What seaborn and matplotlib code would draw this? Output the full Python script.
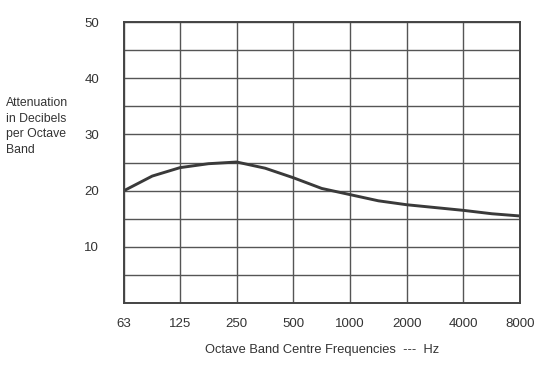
import matplotlib
matplotlib.use("Agg")
import matplotlib.pyplot as plt
import seaborn as sns
import pandas as pd

# octave band centres (tick labels) and the curve
bands = [63, 125, 250, 500, 1000, 2000, 4000, 8000]
band_labels = ["63", "125", "250", "500", "1000", "2000", "4000", "8000"]
freq = [63, 89, 125, 177, 250, 354, 500, 707, 1000, 1414, 2000, 2828, 4000, 5657, 8000]
atten = [20.0, 22.6, 24.1, 24.8, 25.1, 24.0, 22.3, 20.4, 19.3, 18.2, 17.5, 17.0, 16.5, 15.9, 15.5]

df = pd.DataFrame({"freq": freq, "atten": atten})

sns.set_style("white")
plt.rcParams["font.family"] = ["Liberation Sans", "DejaVu Sans"]

fig = plt.figure(figsize=(5.51, 3.67), dpi=100)
ax = fig.add_axes([0.225, 0.174, 0.719, 0.766])

sns.lineplot(data=df, x="freq", y="atten", ax=ax, color="#3a3a3a", linewidth=2.1)

ax.set_xscale("log", base=2)
ax.set_xlim(63, 8000)
ax.set_ylim(0, 50)
ax.set_xticks(bands)
ax.set_xticklabels(band_labels)
ax.set_xticks([], minor=True)
ax.set_yticks([0, 5, 10, 15, 20, 25, 30, 35, 40, 45, 50])
ax.set_yticklabels(["", "", "10", "", "20", "", "30", "", "40", "", "50"])
ax.grid(True, color="#555555", linewidth=1.0)
ax.tick_params(length=0, labelsize=9.5, colors="#333333")
ax.tick_params(axis="x", pad=11)
ax.tick_params(axis="y", pad=18)
for s in ax.spines.values():
    s.set_color("#444444")
    s.set_linewidth(1.4)

ax.set_xlabel("Octave Band Centre Frequencies  ---  Hz", fontsize=9.3, color="#333333", labelpad=10)
ax.set_ylabel("")
fig.text(0.010, 0.735, "Attenuation\nin Decibels\nper Octave\nBand", fontsize=8.8, color="#333333",
         ha="left", va="top", linespacing=1.4)

fig.savefig("out.png", dpi=100)
